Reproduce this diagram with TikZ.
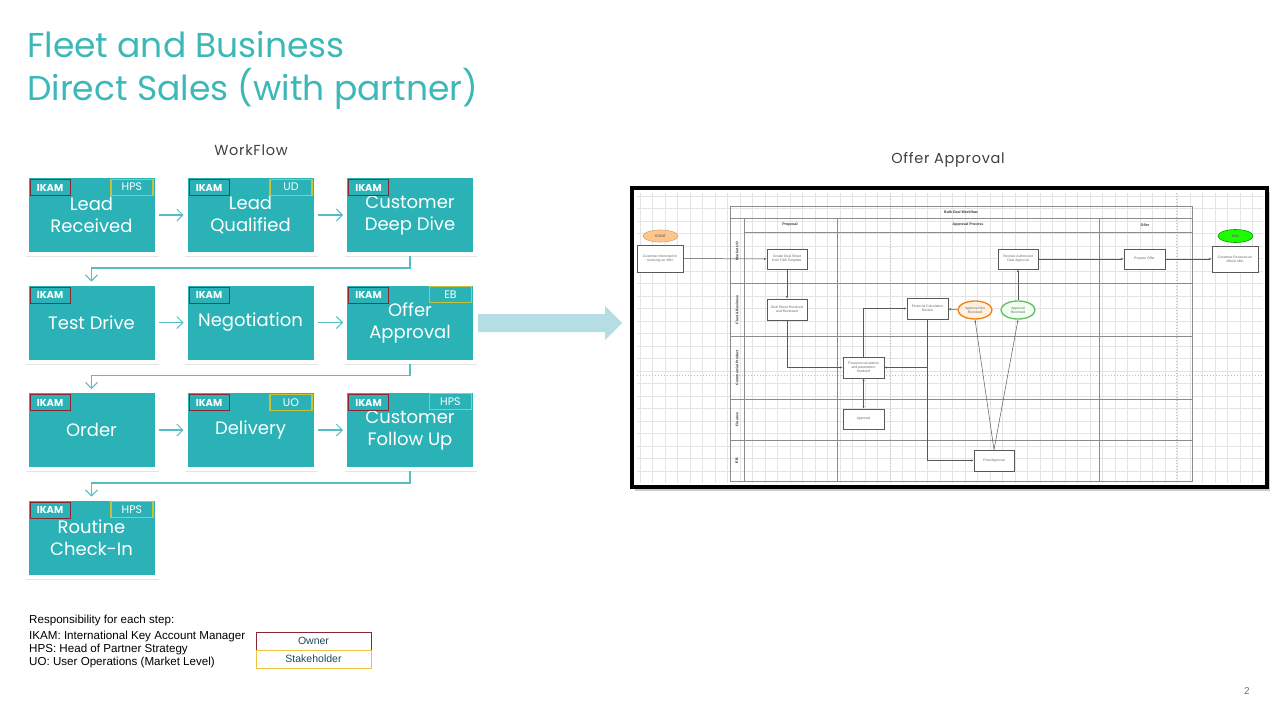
\documentclass[tikz,border=0pt]{standalone}
\usepackage{fontspec}
\setmainfont{Poppins}
\newfontfamily\chartfont{Liberation Sans}
\usetikzlibrary{arrows.meta,shadows,shapes.geometric}

\definecolor{tealbox}{HTML}{2AB2B6}
\definecolor{tealtitle}{HTML}{3CB8B8}
\definecolor{tealline}{HTML}{55BEC2}
\definecolor{arrowfill}{HTML}{B4DEE3}
\definecolor{ownerred}{HTML}{8A2632}
\definecolor{stakeyel}{HTML}{C8C23A}
\definecolor{keyyel}{HTML}{EEC23A}
\definecolor{keytext}{HTML}{1E4A5A}
\definecolor{gridgray}{HTML}{E4E4E4}
\definecolor{lanegray}{HTML}{8C8C8C}

\tikzset{
  stepbox/.style={fill=tealbox, draw=white, line width=4pt, minimum width=130pt,
    minimum height=78pt, inner sep=0pt, align=center, text=white,
    font=\fontsize{18}{22}\selectfont,
    drop shadow={shadow xshift=1pt, shadow yshift=-2.5pt, shadow scale=1.02, fill=black!20}},
  ownertag/.style={draw=ownerred, line width=1.1pt, minimum width=40pt, minimum height=16pt,
    inner sep=0pt, text=white, font=\bfseries\fontsize{10}{10}\selectfont, anchor=north west},
  staketag/.style={draw=stakeyel, line width=1.1pt, minimum width=42pt, minimum height=16pt,
    inner sep=0pt, text=white, font=\fontsize{11}{11}\selectfont, anchor=north east},
  flow/.style={draw=tealline, line width=1.1pt,
    -{Straight Barb[length=6pt,width=12pt,line width=1pt]}},
  title/.style={text=tealtitle, font=\fontsize{34.5}{34.5}\selectfont, anchor=base west, inner sep=0pt},
  caption/.style={text=black!75, font=\fontsize{14.5}{14.5}\selectfont\addfontfeature{LetterSpace=5}},
  gridline/.style={draw=gridgray, line width=0.5pt},
  lane/.style={draw=lanegray, line width=0.8pt},
  pagebreak/.style={draw=black!25, line width=0.6pt, dash pattern=on 1.5pt off 1.5pt},
  cbox/.style={draw=black!65, fill=white, line width=0.6pt, inner sep=0.5pt, align=center,
    font=\chartfont\fontsize{3.4}{4}\selectfont, text=black!60},
  cell/.style={font=\chartfont\bfseries\fontsize{3.6}{4}\selectfont, text=black!80},
  cedge/.style={draw=black!65, line width=0.5pt, -{Latex[length=2.5pt,width=2pt]}},
  legfont/.style={font=\chartfont\fontsize{11.6}{13}\selectfont, text=black, inner sep=0pt},
  keybox/.style={minimum width=115pt, minimum height=18pt, inner sep=0pt, line width=0.9pt,
    text=keytext, font=\chartfont\fontsize{10.5}{10.5}\selectfont}
}

\begin{document}
\begin{tikzpicture}[x=1pt,y=-1pt]
\useasboundingbox[fill=white] (0,0) rectangle (1280,720);

% ---------- title ----------
\node[title] (t1) at (27,57) {Fleet and Business};
\node[title] (t2) at (27,100) {Direct Sales (with partner)};

\node[caption] (wf) at (251,150) {WorkFlow};
\node[caption] (oah) at (948,160) {Offer Approval};

% ---------- workflow steps ----------
\node[stepbox] (s1)  at (91.5,215)   {Lead\\Received};
\node[stepbox] (s2)  at (250.5,215)  {Lead\\Qualified};
\node[stepbox] (s3)  at (410,215)    {Customer\\Deep Dive};
\node[stepbox] (s4)  at (91.5,322.5) {Test Drive};
\node[stepbox] (s5)  at (250.5,322.5){Negotiation};
\node[stepbox] (s6)  at (410,322.5)  {Offer\\Approval};
\node[stepbox] (s7)  at (91.5,430)   {Order};
\node[stepbox] (s8)  at (250.5,430)  {Delivery};
\node[stepbox] (s9)  at (410,430)    {Customer\\Follow Up};
\node[stepbox] (s10) at (91.5,537.5) {Routine\\Check-In};

% owner tags
\foreach \s in {s1,s2,s3,s4,s5,s6,s7,s8,s9,s10}
  \node[ownertag] (\s o) at ([xshift=5pt,yshift=-5pt]\s.north west) {IKAM};

% stakeholder tags
\node[staketag] (s1k)  at ([xshift=-5pt,yshift=-4.5pt]s1.north east)  {HPS};
\node[staketag] (s2k)  at ([xshift=-5pt,yshift=-4.5pt]s2.north east)  {UD};
\node[staketag] (s6k)  at ([xshift=-5pt,yshift=-4.5pt]s6.north east)  {EB};
\node[staketag] (s8k)  at ([xshift=-5pt,yshift=-5pt]s8.north east)    {UO};
\node[staketag] (s9k)  at ([xshift=-5pt,yshift=-4pt]s9.north east)    {HPS};
\node[staketag] (s10k) at ([xshift=-5pt,yshift=-4.5pt]s10.north east) {HPS};

% connectors along each row
\draw[flow] (s1) -- (s2);
\draw[flow] (s2) -- (s3);
\draw[flow] (s4) -- (s5);
\draw[flow] (s5) -- (s6);
\draw[flow] (s7) -- (s8);
\draw[flow] (s8) -- (s9);

% connectors wrapping to the next row
\draw[flow] (s3.south) -- ++(0,12) -| (s4.north);
\draw[flow] (s6.south) -- ++(0,12) -| (s7.north);
\draw[flow] (s9.south) -- ++(0,12) -| (s10.north);

% wide arrow towards the approval chart
\fill[arrowfill] (478,314) -- (605,314) -- (605,306) -- (622,323) -- (605,340) -- (605,332) -- (478,332) -- cycle;

% ---------- offer approval chart ----------
\node[draw=black, line width=4pt, fill=white, minimum width=635pt, minimum height=299pt,
  inner sep=0pt, drop shadow={shadow xshift=3pt, shadow yshift=-3.5pt, fill=black!40}]
  (oa) at (949.5,337.5) {};

% background grid
\foreach \x in {640,652.5,...,1262} \draw[gridline] (\x,192.5) -- (\x,482.5);
\foreach \y in {196,208.5,...,482} \draw[gridline] (636.5,\y) -- (1262.5,\y);
\draw[pagebreak] (890,192.5) -- (890,482.5);
\draw[pagebreak] (1176,192.5) -- (1176,482.5);
\draw[pagebreak] (636.5,375) -- (1262.5,375);

% swimlane table
\draw[lane] (730,206) rectangle (1192,481);
\draw[lane] (730,218) -- (1192,218);
\draw[lane] (744,232) -- (1192,232);
\draw[lane] (744,218) -- (744,481);
\draw[lane] (837,218) -- (837,481);
\draw[lane] (1099,218) -- (1099,481);
\foreach \y in {283,336,399,440} \draw[lane] (730,\y) -- (1192,\y);

\node[cell] (hdr) at (961,212) {Bulk Deal Workflow};
\node[cell] (ph1) at (790,225) {Proposal};
\node[cell] (ph2) at (968,225) {Approval Process};
\node[cell] (ph3) at (1145,225) {Offer};
\node[cell, rotate=90] (ln1) at (737,251)   {Market UO};
\node[cell, rotate=90] (ln2) at (737,309.5) {Fleet \& Business};
\node[cell, rotate=90] (ln3) at (737,367.5) {Commercial Product};
\node[cell, rotate=90] (ln4) at (737,419.5) {Finance};
\node[cell, rotate=90] (ln5) at (737,460.5) {EB};

% chart steps
\node[cbox, ellipse, fill=orange!45, draw=brown!70, minimum width=35pt, minimum height=12pt, font=\chartfont\bfseries\fontsize{3.4}{4}\selectfont]
  (start) at (660.5,236) {START};
\node[cbox, minimum width=46pt, minimum height=27pt] (n1) at (660,258.5) {Customer interested in\\receiving an offer};
\node[cbox, minimum width=40pt, minimum height=20pt] (n2) at (787,259) {Create Deal Sheet\\from F\&B Template};
\node[cbox, minimum width=40pt, minimum height=21pt] (n3) at (787,309.5) {Deal Sheet Received\\and Reviewed};
\node[cbox, minimum width=41pt, minimum height=21pt] (n4) at (863.5,367.5) {Financial calculation\\and parameters\\finalized};
\node[cbox, minimum width=41pt, minimum height=20pt] (n5) at (863.5,419) {Approval};
\node[cbox, minimum width=41pt, minimum height=21pt] (n6) at (927.5,308.5) {Financial Calculation\\Review};
\node[cbox, ellipse, fill=orange!12, draw=orange!80!brown, line width=1.3pt, minimum width=34pt, minimum height=18pt]
  (n7) at (975,310) {Approval Not\\Received};
\node[cbox, ellipse, fill=green!6, draw=green!55!black!60, line width=1.3pt, minimum width=34pt, minimum height=18pt]
  (n8) at (1018,310) {Approval\\Received};
\node[cbox, minimum width=40pt, minimum height=20pt] (n9) at (1018,259) {Receive Authorized\\Deal Approval};
\node[cbox, minimum width=41pt, minimum height=20pt] (n10) at (1144.5,259) {Prepare Offer};
\node[cbox, minimum width=46pt, minimum height=26pt] (n11) at (1235,259) {Customer Receives an\\official offer};
\node[cbox, ellipse, fill=green!85!lime, draw=green!60!black, minimum width=35pt, minimum height=13pt, font=\chartfont\bfseries\fontsize{3.4}{4}\selectfont]
  (endn) at (1235.5,236) {END};
\node[cbox, minimum width=40pt, minimum height=21pt] (n12) at (994,460.5) {Final Approval};

% chart connectors
\draw[cedge] (n1) -- (n2);
\draw[cedge] (n2) -- (n3);
\draw[cedge] (n3) |- (n4);
\draw[cedge] (n4) |- (n6);
\draw[cedge] (n6.south) |- (n4.east);
\draw[cedge] (n6.south) |- (n12.west);
\draw[cedge, {Latex[length=2.5pt,width=2pt]}-{Latex[length=2.5pt,width=2pt]}] (n4) -- (n5);
\draw[cedge] (n7) -- (n6);
\draw[cedge] (n12.north) -- (n7.south);
\draw[cedge] (n12.north) -- (n8.south);
\draw[cedge] (n8) -- (n9);
\draw[cedge] (n9) -- (n10);
\draw[cedge] (n10) -- (n11);

% ---------- legend ----------
\node[legfont, anchor=base west] (lg0) at (29,623) {Responsibility for each step:};
\node[legfont, anchor=base west] (lg1) at (29,639) {IKAM: International Key Account Manager};
\node[legfont, anchor=base west] (lg2) at (29,652) {HPS: Head of Partner Strategy};
\node[legfont, anchor=base west] (lg3) at (29,665) {UO: User Operations (Market Level)};
\node[keybox, draw=ownerred] (kown) at (313.5,641) {Owner};
\node[keybox, draw=keyyel] (kstk) at (313.5,659) {Stakeholder};

% page number
\node[text=black!55, font=\chartfont\fontsize{10}{10}\selectfont] (pg) at (1247,691) {2};
\end{tikzpicture}
\end{document}
